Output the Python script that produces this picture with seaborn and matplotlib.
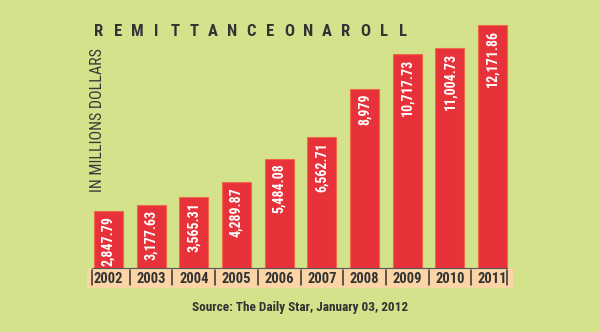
import matplotlib
matplotlib.use("Agg")
import matplotlib.pyplot as plt
import seaborn as sns
import pandas as pd
from matplotlib.patches import Rectangle
import matplotlib.transforms as mtransforms

years = ["2002", "2003", "2004", "2005", "2006", "2007", "2008", "2009", "2010", "2011"]
values = [2847.79, 3177.63, 3565.31, 4289.87, 5484.08, 6562.71, 8979, 10717.73, 11004.73, 12171.86]
value_labels = ["2,847.79", "3,177.63", "3,565.31", "4,289.87", "5,484.08", "6,562.71",
                "8,979", "10,717.73", "11,004.73", "12,171.86"]
title = "REMITTANCEONAROLL"
ylabel = "IN MILLIONS DOLLARS"
source = "Source: The Daily Star, January 03, 2012"

BG = "#d3e28b"
RED = "#e8323a"
PEACH = "#fcd5a6"
DARK = "#333333"

sns.set_theme(style="white")
FAM = ["Roboto Condensed", "DejaVu Sans"]
plt.rcParams["font.family"] = FAM

W, H = 600, 332
fig = plt.figure(figsize=(6, 3.32), dpi=100, facecolor=BG)

fig.patches.append(Rectangle((87 / W, (H - 288) / H), 426 / W, 20 / H,
                             transform=fig.transFigure, facecolor=PEACH,
                             edgecolor="none", zorder=-5))

ax = fig.add_axes([87 / W, (H - 268) / H, 427 / W, 248 / H])
ax.set_zorder(2)
ax.set_facecolor("none")

df = pd.DataFrame({"year": years, "value": values})
sns.barplot(data=df, x="year", y="value", color=RED, saturation=1, width=0.68,
            edgecolor="#ef6a4a", linewidth=0.8, ax=ax)

ax.set_xlim(-0.5, 9.5)
ax.set_ylim(0, 12171.86 * 248 / 243)
for s in ax.spines.values():
    s.set_visible(False)
ax.set_yticks([])
ax.set_xlabel("")
ax.set_ylabel("")
ax.tick_params(axis="x", length=0, pad=3)
ax.set_xticks(range(len(years)))
ax.set_xticklabels(years, fontsize=10.5, fontweight="bold", color=DARK, family=FAM)

for i, (v, lab) in enumerate(zip(values, value_labels)):
    ax.annotate(lab, xy=(i, v), xytext=(0, -5), textcoords="offset pixels",
                rotation=90, ha="center", va="top", color="white",
                fontsize=10, fontweight="bold", family=FAM)

trans = mtransforms.blended_transform_factory(ax.transData, ax.transAxes)
seps = [-0.38] + [i + 0.5 for i in range(9)] + [9.34]
for xs in seps:
    ax.plot([xs, xs], [-2 / 248, -17 / 248], color=DARK, lw=1.1,
            transform=trans, clip_on=False)
ax.plot([-0.38, 9.34], [0, 0], color="#555555", lw=0.8, transform=trans, clip_on=False)

for k, ch in enumerate(title):
    fig.text((99 + k * 19) / W, (H - 31) / H, ch, ha="center", va="center",
             fontsize=12, fontweight="bold", color=DARK, family=FAM)

fig.text(98 / W, (H - 120) / H, ylabel, rotation=90, ha="center", va="center",
         fontsize=11.5, color="#3a3a3a", family=FAM)

fig.text(300 / W, (H - 308) / H, source, ha="center", va="center",
         fontsize=9.5, fontweight="bold", color=DARK, family=FAM)

fig.savefig("out.png", dpi=100, facecolor=BG)
